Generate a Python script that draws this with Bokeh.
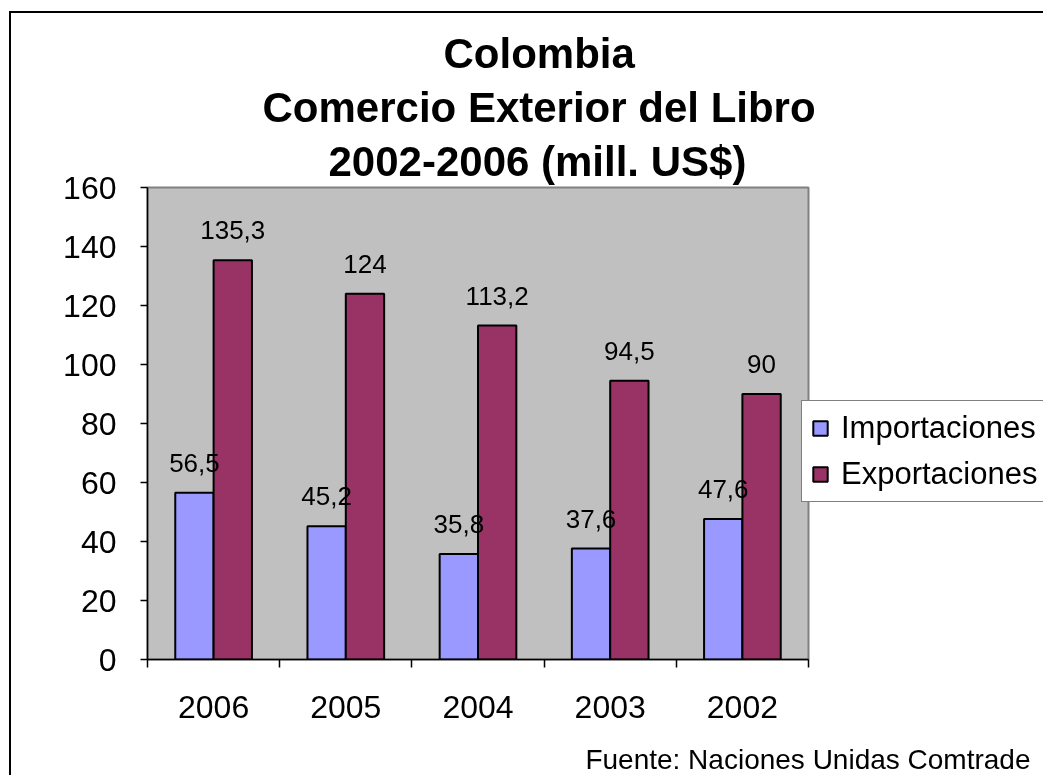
from bokeh.plotting import figure
from bokeh.models import Range1d, FixedTicker, Legend, LegendItem, Title, ColumnDataSource
from bokeh.core.properties import value
from bokeh.transform import dodge
from bokeh.embed import file_html
from bokeh.resources import INLINE

# ---- data ----
years = ["2006", "2005", "2004", "2003", "2002"]
importaciones = [56.5, 45.2, 35.8, 37.6, 47.6]
exportaciones = [135.3, 124, 113.2, 94.5, 90]
y_ticks = [0, 20, 40, 60, 80, 100, 120, 140, 160]
title_lines = ["Colombia", "Comercio Exterior del Libro", "2002-2006 (mill. US$)"]
source_note = "Fuente: Naciones Unidas Comtrade"
series_names = ["Importaciones", "Exportaciones"]


def fmt(v):
    return f"{v:g}".replace(".", ",")


idx = list(range(len(years)))
src = ColumnDataSource(dict(
    x=idx,
    imp=importaciones,
    exp=exportaciones,
    imp_lbl=[fmt(v) for v in importaciones],
    exp_lbl=[fmt(v) for v in exportaciones],
))

FONT = "Liberation Sans"
IMP_COLOR = "#9999FF"
EXP_COLOR = "#993366"
BAR_W = 0.29

p = figure(
    frame_width=661, frame_height=472,
    min_border_left=136, min_border_right=250,
    min_border_top=174, min_border_bottom=140,
    x_range=Range1d(-0.5, len(years) - 0.5),
    y_range=Range1d(0, 160),
    output_backend="svg", toolbar_location=None, tools="",
)
p.background_fill_color = "#C0C0C0"
p.border_fill_color = "white"
p.outline_line_color = "#808080"
p.outline_line_width = 2
p.xgrid.visible = False
p.ygrid.visible = False
# outer chart-area frame (only its left and top edges fall inside the window)
p.styles = {"border-left": "2px solid black", "border-top": "2px solid black",
            "position": "fixed", "left": "9px", "top": "11px"}

r_imp = p.vbar(x=dodge("x", -BAR_W / 2), top="imp", width=BAR_W, source=src,
               fill_color=IMP_COLOR, line_color="black", line_width=2)
r_exp = p.vbar(x=dodge("x", BAR_W / 2), top="exp", width=BAR_W, source=src,
               fill_color=EXP_COLOR, line_color="black", line_width=2)

for col, lbl, off in (("imp", "imp_lbl", -BAR_W / 2), ("exp", "exp_lbl", BAR_W / 2)):
    p.text(x=dodge("x", off), y=col, text=lbl, source=src,
           text_align="center", text_baseline="alphabetic", y_offset=-30,
           text_font=value(FONT), text_font_size="26px", text_color="black")

# y axis
ya = p.yaxis[0]
ya.ticker = FixedTicker(ticks=y_ticks, minor_ticks=[])
ya.major_tick_out = 7
ya.major_tick_in = 0
ya.minor_tick_out = 0
ya.minor_tick_in = 0
ya.major_label_standoff = 24
ya.major_label_text_font = FONT
ya.major_label_text_font_size = "32px"
ya.major_label_text_color = "black"
ya.axis_line_color = "black"
ya.axis_line_width = 1.5
ya.major_tick_line_color = "black"
ya.major_tick_line_width = 1.5

# x axis: labels at category centres, tick marks at category boundaries
xa = p.xaxis[0]
xa.ticker = FixedTicker(ticks=idx, minor_ticks=[i - 0.5 for i in range(len(years) + 1)])
xa.major_label_overrides = {i: y for i, y in zip(idx, years)}
xa.major_tick_out = 0
xa.major_tick_in = 0
xa.minor_tick_out = 8
xa.minor_tick_in = 0
xa.major_label_standoff = 28
xa.major_label_text_font = FONT
xa.major_label_text_font_size = "32px"
xa.major_label_text_color = "black"
xa.axis_line_color = "black"
xa.axis_line_width = 1.5
xa.minor_tick_line_color = "black"
xa.minor_tick_line_width = 1.5

legend = Legend(
    items=[LegendItem(label=series_names[0], renderers=[r_imp]),
           LegendItem(label=series_names[1], renderers=[r_exp])],
    location=(-7, 157),
    label_text_font=FONT, label_text_font_size="31px", label_text_color="black",
    glyph_width=18, glyph_height=18, label_standoff=12,
    padding=9, spacing=10, margin=0,
    border_line_color="black", border_line_width=1,
    background_fill_color="white", background_fill_alpha=1.0,
)
p.add_layout(legend, "right")

# title lines (added bottom-most first); left offsets centre each line over the chart
title_offsets = [296, 115, 181]
for text, off in reversed(list(zip(title_lines, title_offsets))):
    p.add_layout(Title(text=text, align="left", offset=off, standoff=5,
                       text_font=FONT, text_font_style="bold", text_font_size="42px",
                       text_color="black"), "above")

p.add_layout(Title(text=source_note, align="right", offset=-222, standoff=42,
                   text_font=FONT, text_font_style="normal", text_font_size="28px",
                   text_color="black"), "below")

open("out.html", "w").write(file_html(p, INLINE))
